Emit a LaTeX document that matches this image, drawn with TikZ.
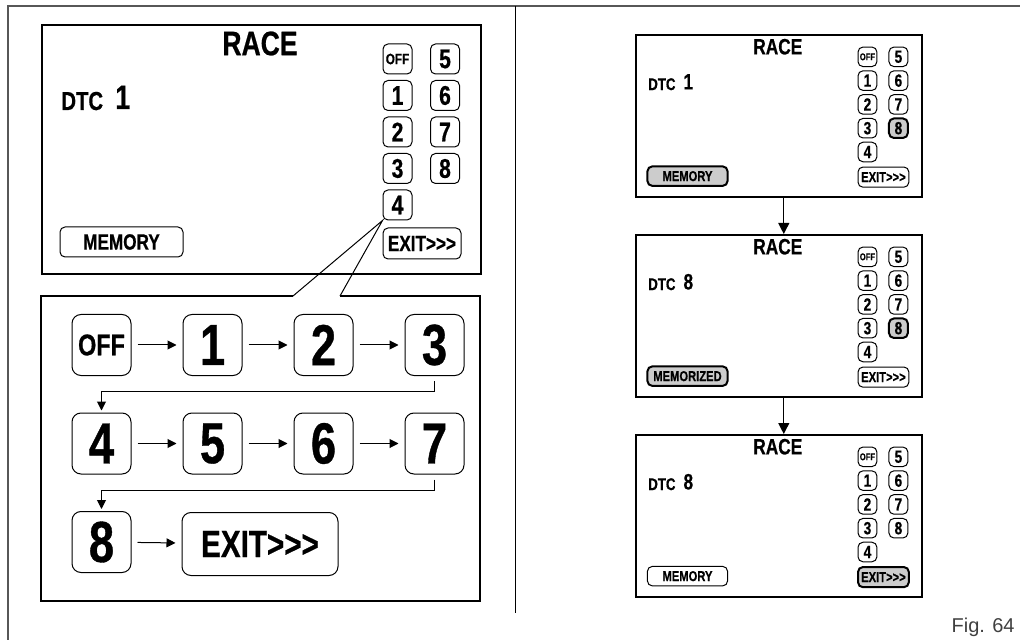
\documentclass[tikz,border=0pt]{standalone}
\usepackage{fontspec}
\setmainfont{Liberation Sans}
\newfontfamily\cond{Liberation Sans}[FakeStretch=0.78, BoldFeatures={FakeBold=0.6}]
\usetikzlibrary{arrows.meta}

\newcommand{\tsize}[1]{\fontsize{#1}{#1}\selectfont}
\newcommand{\exitlbl}{EXIT>\kern0pt>\kern0pt>}
\definecolor{framegray}{gray}{0.34}
\definecolor{litgray}{gray}{0.80}

\tikzset{
  every node/.style={font=\cond\bfseries},
  screenbox/.style={draw, line width=1.2pt, anchor=north west, inner sep=0pt,
    minimum width=219.5pt, minimum height=124.5pt},
  keybtn/.style={draw, line width=0.5pt, rounded corners=2.5pt, inner sep=0pt,
    minimum width=14.5pt, minimum height=15pt, font=\cond\bfseries\tsize{13.5}},
  offkey/.style={font=\cond\bfseries\tsize{7.5}},
  widebtn/.style={keybtn, font=\cond\bfseries\tsize{11}},
  lit/.style={fill=litgray, line width=1pt},
  flowbtn/.style={draw, line width=0.5pt, rounded corners=4.5pt, inner sep=0pt,
    minimum width=29.5pt, minimum height=30.5pt, font=\cond\bfseries\tsize{29}},
  flowarrow/.style={-{Triangle[length=4.5pt,width=4.5pt]}, line width=0.5pt,
    shorten <=3pt, shorten >=3pt},
  backarrow/.style={-{Triangle[length=4.5pt,width=4.5pt]}, line width=0.5pt,
    shorten <=2.5pt, shorten >=1pt},
  droparrow/.style={-{Triangle[length=5.5pt,width=5.5pt]}, line width=0.6pt}
}

% one RACE screen: name, DTC value, memory text, style of 8, of memory, of exit
\newcommand{\racescreen}[6]{%
  \node[screenbox] (#1) at (0,0) {};
  \node[font=\cond\bfseries\tsize{17}] (#1-title) at (219,19.5) {RACE};
  \node[anchor=base west, inner sep=0pt, font=\cond\bfseries\tsize{13}] (#1-dtc) at (20,86) {DTC};
  \node[anchor=base west, inner sep=0pt, font=\cond\bfseries\tsize{17}] (#1-val) at (74,85) {#2};
  \foreach \lbl/\col/\row/\sty in {OFF/0/0/offkey, 1/0/1/, 2/0/2/, 3/0/3/, 4/0/4/,
      5/1/0/, 6/1/1/, 7/1/2/, 8/1/3/#4}
    \node[keybtn, \sty] (#1-\lbl) at ({356.5+47.5*\col},{35+36.5*\row}) {\lbl};
  \node[widebtn, minimum width=61.5pt, #5] (#1-mem) at (80.5,218) {#3};
  \node[widebtn, minimum width=39pt, minimum height=15.5pt, #6] (#1-exit) at (381,219.5) {\exitlbl};
}

\begin{document}
\begin{tikzpicture}[x=0.5pt, y=-0.5pt]
  \useasboundingbox (0,0) rectangle (1020,640);
  % page frame and divider
  \draw[framegray, line width=1pt] (1020,6.5) -- (8,6.5) -- (8,640);
  \draw[line width=0.8pt] (515.5,6.5) -- (515.5,613);

  % left: big screen
  \begin{scope}[shift={(41,24)}]
    \racescreen{L}{1}{MEMORY}{}{}{}
  \end{scope}

  % left: sequence panel with callout
  \coordinate (gapL) at (293,296);
  \coordinate (gapR) at (340,296);
  \draw[line width=0.6pt] (gapL) -- (41,296) -- (41,601) -- (480,601) -- (480,296) -- (gapR);
  \draw[line width=0.5pt] (gapL) -- (L-4.south west) -- (gapR);

  \node[flowbtn, font=\cond\bfseries\tsize{15}] (FOFF) at (101.5,345) {OFF};
  \foreach \n in {1,...,8}{
    \pgfmathsetmacro\fx{101.5+111*mod(\n,4)}
    \pgfmathsetmacro\fy{345+98.5*int(\n/4)}
    \node[flowbtn] (F\n) at (\fx,\fy) {\n};
  }
  \node[flowbtn, minimum width=78pt, minimum height=31.5pt, font=\cond\bfseries\tsize{19}] (FEXIT) at (260,544) {\exitlbl};

  \foreach \a/\b in {OFF/1,1/2,2/3,4/5,5/6,6/7,8/EXIT}
    \draw[flowarrow] (F\a) -- (F\b);
  \draw[backarrow] (F3.south) -- ++(0,15) -| (F4.north);
  \draw[backarrow] (F7.south) -- ++(0,16) -| (F8.north);

  % right: three small screens
  \begin{scope}[shift={(635,34)}, scale=0.652, transform shape, screenbox/.append style={line width=1pt}]
    \racescreen{R1}{1}{MEMORY}{lit}{lit}{}
  \end{scope}
  \begin{scope}[shift={(635,234)}, scale=0.652, transform shape, screenbox/.append style={line width=1pt}]
    \racescreen{R2}{8}{MEMORIZED}{lit}{lit}{}
  \end{scope}
  \begin{scope}[shift={(635,434)}, scale=0.652, transform shape, screenbox/.append style={line width=1pt}]
    \racescreen{R3}{8}{MEMORY}{}{}{lit}
  \end{scope}
  \draw[droparrow] ([xshift=2.5pt]R1.south) -- ([xshift=2.5pt]R2.north);
  \draw[droparrow] ([xshift=2.5pt]R2.south) -- ([xshift=2.5pt]R3.north);

  \node[anchor=base east, inner sep=0pt, text=black!75, font=\normalfont\tsize{10}] (figlbl) at (1015,632) {Fig. 64};
\end{tikzpicture}
\end{document}
